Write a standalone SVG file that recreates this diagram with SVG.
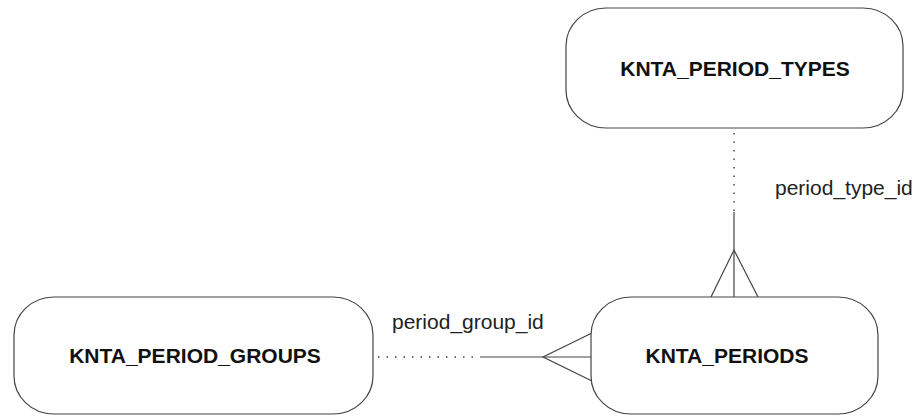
<svg xmlns="http://www.w3.org/2000/svg" width="921" height="416" viewBox="0 0 921 416">
<style>
.box{fill:#fff;stroke:#444;stroke-width:1.2}
.title{font-family:"Liberation Sans",Arial,sans-serif;font-weight:bold;font-size:21px;fill:#111;text-anchor:middle}
.lbl{font-family:"Liberation Sans",Arial,sans-serif;font-size:21px;fill:#222}
.ln{stroke:#444;stroke-width:1.2;fill:none}
.dot{stroke:#444;stroke-width:1.5;fill:none;stroke-dasharray:1.5 7}
</style>
<rect width="921" height="416" fill="#fff"/>
<g id="connectors">
<g id="c-types">
<line class="dot" x1="734" y1="133" x2="734" y2="212"/>
<line class="ln" x1="734" y1="212" x2="734" y2="297"/>
<polyline class="ln" points="711,297 734,250 758,297"/>
<text class="lbl" x="775" y="195">period_type_id</text>
</g>
<g id="c-groups">
<line class="dot" x1="378" y1="357" x2="480" y2="357"/>
<line class="ln" x1="480" y1="357" x2="591" y2="357"/>
<polyline class="ln" points="592,333 543,357 592,381"/>
<text class="lbl" x="392" y="329">period_group_id</text>
</g>
</g>
<g id="KNTA_PERIOD_TYPES">
<rect class="box" x="566" y="8" width="337" height="120" rx="40" ry="38"/>
<text class="title" x="735" y="76">KNTA_PERIOD_TYPES</text>
</g>
<g id="KNTA_PERIOD_GROUPS">
<rect class="box" x="14" y="297" width="359" height="117" rx="40" ry="38"/>
<text class="title" x="195" y="363">KNTA_PERIOD_GROUPS</text>
</g>
<g id="KNTA_PERIODS">
<rect class="box" x="591" y="297" width="287" height="117" rx="40" ry="38"/>
<text class="title" x="727" y="363">KNTA_PERIODS</text>
</g>
</svg>
